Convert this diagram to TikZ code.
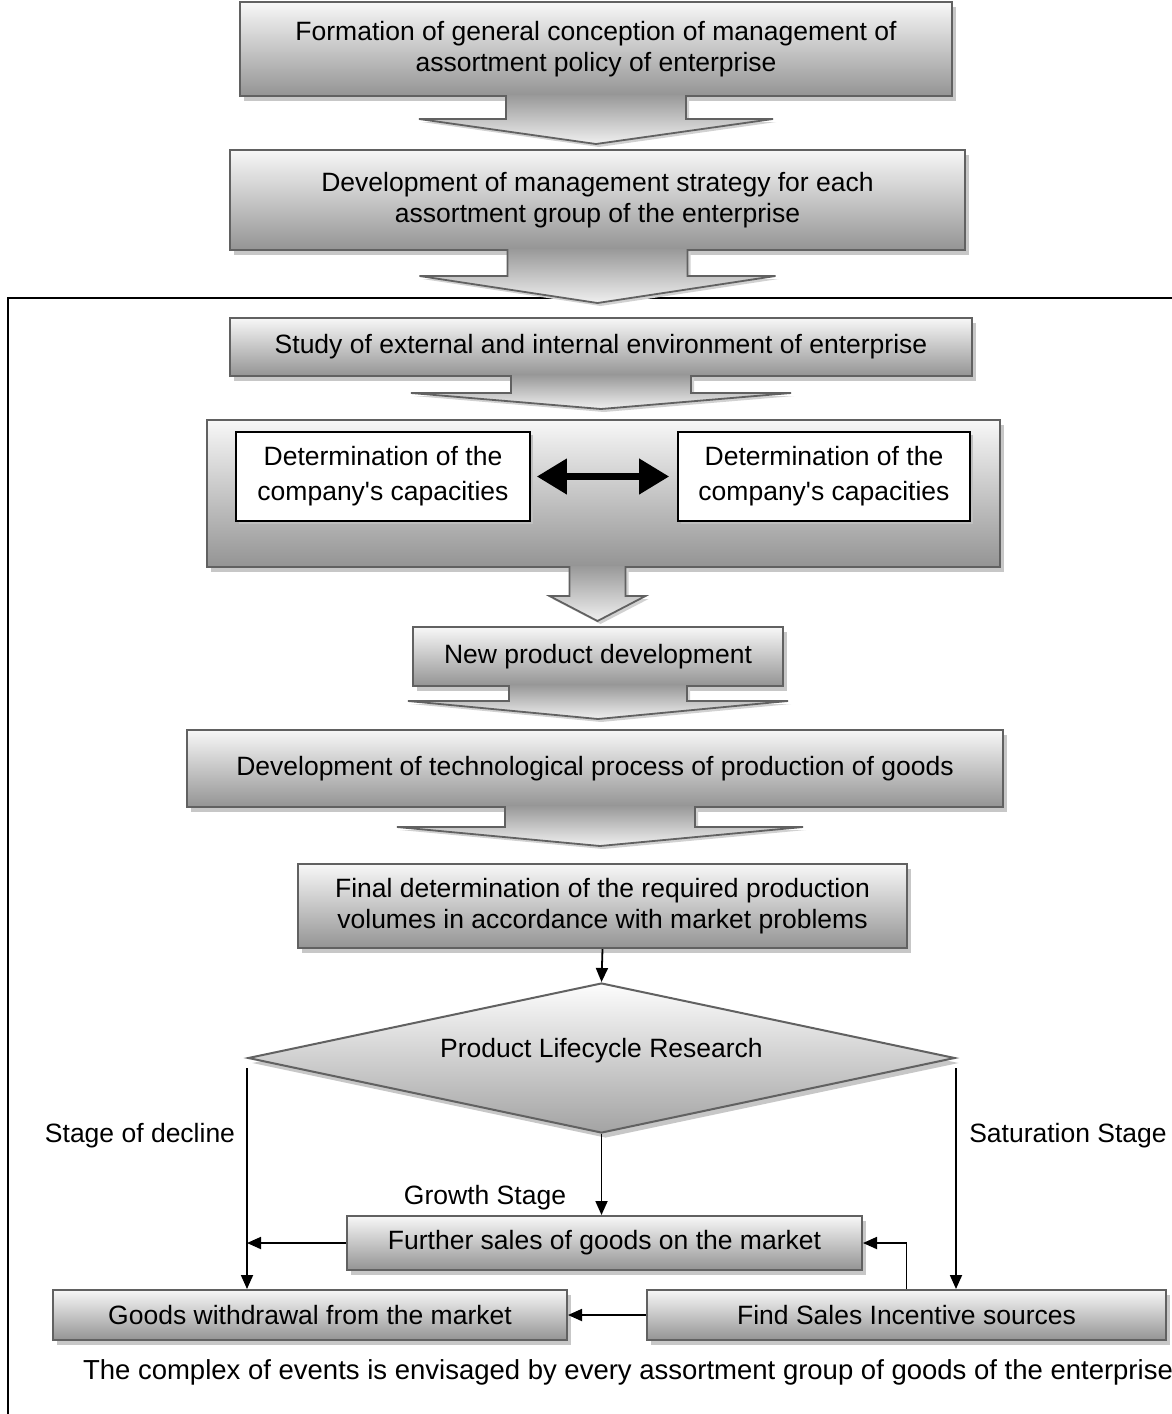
\documentclass[tikz,border=0pt]{standalone}
\usepackage{fontspec}
\setmainfont{Liberation Sans}
\usetikzlibrary{shapes.geometric,shadows,arrows.meta,calc}
\tikzset{
  gbox/.style={draw=black!62, line width=2pt, top color=black!3, bottom color=black!42,
    drop shadow={shadow xshift=4pt,shadow yshift=-5pt,fill=black!22,opacity=1},
    align=center, font=\fontsize{26.5}{31}\selectfont, inner sep=0pt},
  wbox/.style={draw=black, line width=1.6pt, fill=white,
    drop shadow={shadow xshift=3pt,shadow yshift=-3pt,fill=black!25,opacity=1},
    align=center, font=\fontsize{26.5}{35}\selectfont, inner sep=0pt},
  barrow/.style={draw=black!62, line width=1.8pt, top color=black!40, bottom color=black!6,
    drop shadow={shadow xshift=3pt,shadow yshift=-3pt,fill=black!18,opacity=1}},
  conn/.style={line width=1.8pt, -{Triangle[length=14pt,width=12pt]}},
  lbl/.style={font=\fontsize{26.5}{31}\selectfont, inner sep=0pt},
}
\newcommand\blkarr[5]{%
  \path[barrow] ($(#1)+(-#2,-2)$) -- ($(#1)+(-#2,#3)$) -- ($(#1)+(-#4,#3)$) --
    ($(#1)+(0,#5)$) -- ($(#1)+(#4,#3)$) -- ($(#1)+(#2,#3)$) -- ($(#1)+(#2,-2)$);}
\begin{document}
\begin{tikzpicture}[x=1pt,y=-1pt]
\useasboundingbox (0,0) rectangle (1172,1414);
% frame (top and left edges)
\draw[line width=1.5pt] (1172,298) -- (8,298) -- (8,1414);

\node[gbox, minimum width=712pt, minimum height=94pt] (b1) at (596,49)
  {Formation of general conception of management of\\assortment policy of enterprise};
\node[gbox, minimum width=735pt, minimum height=100pt] (b2) at (597.5,200)
  {Development of management strategy for each\\assortment group of the enterprise};
\node[gbox, minimum width=742pt, minimum height=58pt] (b3) at (601,347)
  {Study of external and internal environment of enterprise};
\node[gbox, minimum width=793pt, minimum height=147pt] (b4) at (603.5,493.5) {};
\node[wbox, minimum width=294pt, minimum height=89pt] (c1) at (383,476.5)
  {Determination of the\\company\textquotesingle s capacities};
\node[wbox, minimum width=292pt, minimum height=89pt] (c2) at (824,476.5)
  {Determination of the\\company\textquotesingle s capacities};
\draw[line width=7pt, {Triangle[length=30pt,width=34pt]}-{Triangle[length=30pt,width=34pt]}, shorten <=6pt, shorten >=8pt] (c1.east) -- (c2.west);
\node[gbox, minimum width=370pt, minimum height=59pt] (b5) at (598,656.5)
  {New product development};
\node[gbox, minimum width=816pt, minimum height=77pt] (b6) at (595,768.5)
  {Development of technological process of production of goods};
\node[gbox, minimum width=609pt, minimum height=84pt] (b7) at (602.5,906)
  {Final determination of the required production\\volumes in accordance with market problems};

% block arrows
\blkarr{b1.south}{90}{22}{177}{47}
\blkarr{b2.south}{90}{25}{178}{52}
\blkarr{b3.south}{90}{16}{190}{32}
\blkarr{$(b4.south)+(-6,0)$}{28}{28}{48}{53}
\blkarr{b5.south}{89}{14}{190}{32}
\blkarr{$(b6.south)+(5,0)$}{95}{19}{203}{38}

% decision
\node[diamond, gbox, top color=black!1, bottom color=black!36, aspect=4.7, minimum width=707pt, minimum height=150pt] (d) at (601.5,1058)
  {\raisebox{20pt}{Product Lifecycle Research}};

\node[gbox, minimum width=515pt, minimum height=54pt] (b8) at (604.5,1243)
  {Further sales of goods on the market};
\node[gbox, minimum width=514pt, minimum height=50pt] (b9) at (310,1315)
  {Goods withdrawal from the market};
\node[gbox, minimum width=519pt, minimum height=50pt] (b10) at (906.5,1315)
  {Find Sales Incentive sources};

% connectors
\draw[conn] (b7.south) -- (d.north);
\draw[conn] ($(d.west)+(0,10)$) -- (d.west |- b9.north);
\draw[conn] ($(d.east)+(0,10)$) -- (d.east |- b10.north);
\draw[conn] (d.south) -- (d.south |- b8.north);
\draw[conn] (b8.west) -- (b8.west -| d.west);
\draw[conn] (b10.west) -- (b9.east);
\draw[conn] (b10.north) |- (b8.east);

% labels
\node[lbl] (l1) at (140,1136) {Stage of decline};
\node[lbl] (l2) at (1068,1136) {Saturation Stage};
\node[lbl] (l3) at (485,1198) {Growth Stage};
\node[lbl, font=\fontsize{27.5}{31}\selectfont] (cap) at (628,1372) {The complex of events is envisaged by every assortment group of goods of the enterprise};
\end{tikzpicture}
\end{document}
